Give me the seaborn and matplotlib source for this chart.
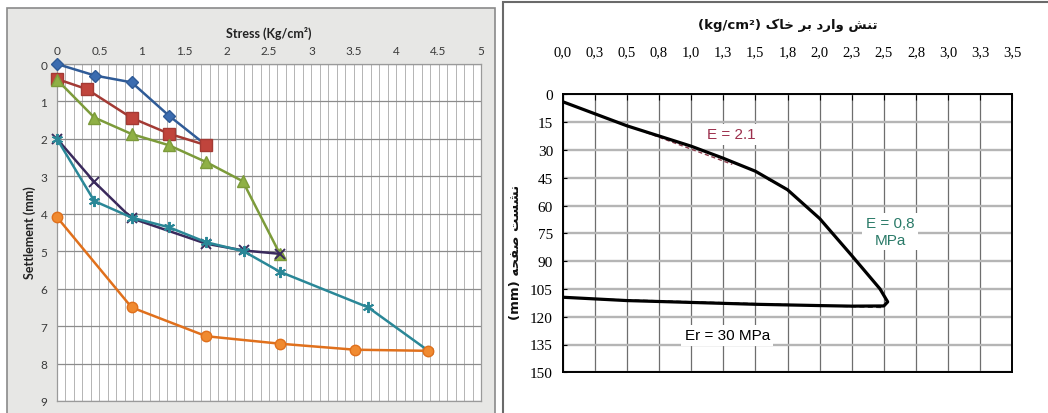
import numpy as np
import pandas as pd
import matplotlib
matplotlib.use("Agg")
import matplotlib.pyplot as plt
import seaborn as sns
from matplotlib.patches import Rectangle

# ---------------- data: left panel (plate load tests) ----------------
blue_stress = [0.0, 0.45, 0.88, 1.32, 1.76]
blue_settle = [0.0, 0.31, 0.49, 1.38, 2.17]
red_stress = [0.0, 0.35, 0.88, 1.32, 1.76]
red_settle = [0.40, 0.67, 1.44, 1.86, 2.17]
green_stress = [0.0, 0.44, 0.88, 1.32, 1.76, 2.19, 2.63]
green_settle = [0.42, 1.43, 1.87, 2.17, 2.62, 3.13, 5.08]
purple_stress = [0.0, 0.44, 0.88, 1.76, 2.20, 2.63]
purple_settle = [2.0, 3.15, 4.12, 4.80, 4.98, 5.07]
teal_stress = [0.0, 0.44, 0.88, 1.32, 1.76, 2.20, 2.63, 3.67, 4.38]
teal_settle = [2.0, 3.66, 4.10, 4.36, 4.76, 5.00, 5.55, 6.50, 7.66]
orange_stress = [0.0, 0.88, 1.76, 2.63, 3.51, 4.38]
orange_settle = [4.09, 6.50, 7.27, 7.47, 7.63, 7.66]

left_xticks = [0, 0.5, 1, 1.5, 2, 2.5, 3, 3.5, 4, 4.5, 5]
left_xticklabels = ["0", "0.5", "1", "1.5", "2", "2.5", "3", "3.5", "4", "4.5", "5"]
left_yticks = [0, 1, 2, 3, 4, 5, 6, 7, 8, 9]

# ---------------- data: right panel (loading / unloading loop) ----------------
plate_stress = [0.0, 0.25, 0.5, 0.75, 1.0, 1.25, 1.5, 1.75, 2.0, 2.25, 2.47, 2.53,
                2.50, 2.25, 2.0, 1.5, 1.0, 0.5, 0.0]
plate_settle = [4.0, 10.5, 17.0, 22.5, 28.0, 34.5, 41.5, 51.5, 67.0, 87.0, 105.0, 112.0,
                114.2, 114.3, 114.0, 113.3, 112.3, 111.3, 109.5]
fit1_stress = [0.65, 1.32]
fit1_settle = [20.6, 37.8]
fit2_stress = [1.60, 1.75]
fit2_settle = [46.0, 51.0]
fit3_stress = [0.30, 2.50]
fit3_settle = [110.6, 115.0]

right_xticks = [0.0, 0.25, 0.5, 0.75, 1.0, 1.25, 1.5, 1.75, 2.0, 2.25, 2.5, 2.75, 3.0, 3.25, 3.5]
right_xticklabels = ["0,0", "0,3", "0,5", "0,8", "1,0", "1,3", "1,5", "1,8",
                     "2,0", "2,3", "2,5", "2,8", "3,0", "3,3", "3,5"]
right_yticks = [0, 15, 30, 45, 60, 75, 90, 105, 120, 135, 150]

# Persian labels written in visual order with Arabic presentation forms
fa_title = ("(kg/cm\u00b2) " + "\uFB8E\uFE8E\uFEA7" + " " + "\uFEAE\uFE91" + " "
            + "\uFEA9\uFEAD\uFE8D\uFEED" + " " + "\uFEB6\uFEE8\uFE97")
fa_ylabel = "(mm) " + "\uFEEA\uFEA4\uFED4\uFEBB" + " " + "\uFE96\uFEB4\uFEB8\uFEE7"

# ---------------- figure ----------------
sns.set_theme(style="white")
plt.rcParams["font.family"] = ["DejaVu Sans"]

W, H = 1048, 414
fig = plt.figure(figsize=(W / 100, H / 100), dpi=100)
fig.patch.set_facecolor("white")

# panel frames
fig.patches.append(Rectangle((7 / W, -0.05), 488 / W, (H - 9) / H + 0.05,
                             transform=fig.transFigure, facecolor="#e7e7e5",
                             edgecolor="#8a8a8a", lw=1.2, zorder=-2))
fig.patches.append(Rectangle((503 / W, -0.05), 560 / W, (H - 3) / H + 0.05,
                             transform=fig.transFigure, facecolor="white",
                             edgecolor="#6a6a6a", lw=1.5, zorder=-2))

# ---------- left panel ----------
ax1 = fig.add_axes([57 / W, 12 / H, 424 / W, 337 / H])
ax1.set_facecolor("white")

series = [
    (blue_stress, blue_settle, "#2f5b97", "#3b6cb0", "D", 6.0),
    (red_stress, red_settle, "#a33a34", "#c0443c", "s", 8.0),
    (green_stress, green_settle, "#7c9b3a", "#8fb045", "^", 8.0),
    (purple_stress, purple_settle, "#3a2a5c", "#3a2a5c", "x", 6.5),
    (teal_stress, teal_settle, "#2a8797", "#3199ab", (6, 2, 0), 8.0),
    (orange_stress, orange_settle, "#e0701c", "#f08a30", "o", 7.5),
]
for xs, ys, lc, mc, mk, ms in series:
    sns.lineplot(x=xs, y=ys, sort=False, estimator=None, ax=ax1, color=lc, lw=1.8,
                 marker=mk, markersize=ms, markerfacecolor=mc, markeredgecolor=lc,
                 markeredgewidth=1.0 if mk not in ("x", (6, 2, 0)) else 1.4,
                 zorder=3, clip_on=False)

ax1.set_xlim(0, 5)
ax1.set_ylim(9, 0)
ax1.xaxis.tick_top()
ax1.set_xticks(left_xticks)
ax1.set_xticklabels(left_xticklabels)
ax1.set_xticks(np.arange(0, 5.01, 0.1), minor=True)
ax1.set_yticks(left_yticks)
ax1.grid(which="both", axis="x", color="#b4b4b4", lw=0.7)
ax1.grid(which="major", axis="y", color="#8c8c8c", lw=0.9)
for s in ax1.spines.values():
    s.set_color("#9a9a9a")
    s.set_linewidth(0.9)
ax1.tick_params(axis="both", which="both", length=0, labelsize=8.5, colors="#3a3a3a")
ax1.tick_params(axis="x", pad=6)
ax1.tick_params(axis="y", pad=7)
for lab in ax1.get_xticklabels() + ax1.get_yticklabels():
    lab.set_family(["Lato", "DejaVu Sans"])
ax1.set_xlabel("Stress (Kg/cm\u00b2)", fontsize=9, fontweight="bold",
               family=["Lato", "DejaVu Sans"], color="#222222")
ax1.xaxis.set_label_position("top")
ax1.xaxis.set_label_coords(0.5, (381 / H - 12 / H) / (337 / H))
ax1.xaxis.label.set_va("center")
ax1.set_ylabel("Settlement (mm)", fontsize=9, fontweight="bold",
               family=["Lato", "DejaVu Sans"], color="#222222")
ax1.yaxis.set_label_coords((30 - 57) / 424, ((H - 233) - 12) / 337)
ax1.yaxis.label.set_va("center")

# ---------- right panel ----------
ax2 = fig.add_axes([562.7 / W, (H - 373.3) / H, 449.6 / W, 278 / H])
ax2.set_facecolor("white")
sns.lineplot(x=plate_stress, y=plate_settle, sort=False, estimator=None, ax=ax2,
             color="black", lw=2.3, zorder=4)
sns.lineplot(x=fit1_stress, y=fit1_settle, sort=False, estimator=None, ax=ax2,
             color="#8a3a4a", lw=1.0, linestyle=(0, (3, 2)), zorder=3)
sns.lineplot(x=fit2_stress, y=fit2_settle, sort=False, estimator=None, ax=ax2,
             color="#555555", lw=1.0, linestyle=(0, (3, 2)), zorder=3)
sns.lineplot(x=fit3_stress, y=fit3_settle, sort=False, estimator=None, ax=ax2,
             color="#444444", lw=1.2, linestyle=(0, (3, 2)), zorder=3)

ax2.set_xlim(0, 3.5)
ax2.set_ylim(150, 0)
ax2.xaxis.tick_top()
ax2.set_xticks(right_xticks)
ax2.set_xticklabels(right_xticklabels)
ax2.set_yticks(right_yticks)
ax2.grid(axis="x", color="#6e6e6e", lw=0.9)
ax2.grid(axis="y", color="#b5b5b5", lw=1.7)
for s in ax2.spines.values():
    s.set_color("black")
    s.set_linewidth(1.4)
ax2.tick_params(axis="x", direction="in", length=4, width=0.8, pad=26,
                labelsize=10.5, colors="black", top=True)
ax2.tick_params(axis="y", direction="in", length=3, width=0.8, pad=7,
                labelsize=11, colors="black", left=True)
for lab in ax2.get_xticklabels() + ax2.get_yticklabels():
    lab.set_family(["Liberation Serif", "DejaVu Serif"])

ax2.set_xlabel(fa_title, fontsize=9.5, fontweight="bold", color="#111111")
ax2.xaxis.set_label_position("top")
ax2.xaxis.set_label_coords(0.5, ((H - 25) / H - (H - 373.3) / H) / (278 / H))
ax2.xaxis.label.set_va("center")
ax2.set_ylabel(fa_ylabel, fontsize=9.5, fontweight="bold", color="#111111")
ax2.yaxis.set_label_coords((515 - 562.7) / 449.6, ((H - 252) - (H - 373.3)) / 278)
ax2.yaxis.label.set_va("center")

lab_font = ["Liberation Sans Narrow", "Liberation Sans", "DejaVu Sans"]
box = dict(facecolor="white", edgecolor="none", pad=2.5)
ax2.text(1.31, 21.5, "E = 2.1", color="#9c2f4c", fontsize=11, family=lab_font,
         ha="center", va="center", bbox=box, zorder=5)
ax2.text(2.55, 74, "E = 0,8\nMPa", color="#2a7a68", fontsize=11, family=lab_font,
         ha="center", va="center", multialignment="center", bbox=box, zorder=5,
         linespacing=1.2)
ax2.text(1.28, 130, "Er = 30 MPa", color="black", fontsize=11, family=lab_font,
         ha="center", va="center", bbox=box, zorder=5)

fig.savefig("out.png", dpi=100, facecolor=fig.get_facecolor())
